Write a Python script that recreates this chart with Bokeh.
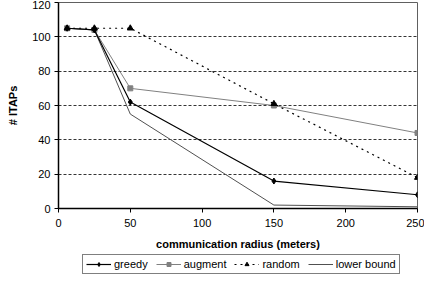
from bokeh.plotting import figure
from bokeh.models import Legend, LegendItem, FixedTicker, Range1d
from bokeh.layouts import column
from bokeh.embed import file_html
from bokeh.resources import INLINE

radius = [6, 25, 50, 150, 250]
greedy = [105, 104, 62, 16, 8]
augment = [105, 104, 70, 60, 44]
random_ = [105, 105, 105, 61, 18]
lower_bound = [105, 104, 55, 2, 1]
x_ticks = [0, 50, 100, 150, 200, 250]
y_ticks = [0, 20, 40, 60, 80, 100, 120]
series_names = ["greedy", "augment", "random", "lower bound"]

FONT = "Liberation Sans"

p = figure(width=424, height=252, output_backend="svg", toolbar_location=None,
           x_range=Range1d(0, 250), y_range=Range1d(0, 120),
           min_border_left=58, min_border_right=7, min_border_top=2, min_border_bottom=0)
p.background_fill_color = "white"
p.border_fill_color = "white"
p.outline_line_color = "#606060"
p.outline_line_width = 1

p.xgrid.grid_line_color = None
p.ygrid.grid_line_color = "black"
p.ygrid.grid_line_dash = "3 2"
p.ygrid.grid_line_width = 0.8
p.ygrid.ticker = FixedTicker(ticks=y_ticks)

p.xaxis.ticker = FixedTicker(ticks=x_ticks)
p.yaxis.ticker = FixedTicker(ticks=y_ticks)
for ax in (p.xaxis[0], p.yaxis[0]):
    ax.axis_line_color = "black"
    ax.axis_line_width = 1.5
    ax.major_tick_line_color = "black"
    ax.major_tick_in = 0
    ax.major_tick_out = 4
    ax.minor_tick_line_color = None
    ax.major_label_text_font = FONT
    ax.major_label_text_font_size = "11px"
    ax.major_label_text_color = "black"
    ax.axis_label_text_font = FONT
    ax.axis_label_text_font_size = "11px"
    ax.axis_label_text_font_style = "bold"
    ax.axis_label_text_color = "black"
p.xaxis.axis_label = "communication radius (meters)"
p.yaxis.axis_label = "# ITAPs"
p.xaxis.major_label_standoff = 6
p.xaxis.axis_label_standoff = 8
p.yaxis.major_label_standoff = 4
p.yaxis.axis_label_standoff = 10

styles = {
    "greedy": dict(color="black", width=1.2, dash="solid", marker="diamond", size=6),
    "augment": dict(color="#808080", width=1, dash="solid", marker="square", size=5),
    "random": dict(color="black", width=1.2, dash="2 4", marker="triangle", size=6),
    "lower bound": dict(color="#505050", width=1, dash="solid", marker=None, size=0),
}
data = {"greedy": greedy, "augment": augment, "random": random_, "lower bound": lower_bound}

for name in ["lower bound", "augment", "random", "greedy"]:
    s = styles[name]
    p.line(radius, data[name], line_color=s["color"], line_width=s["width"], line_dash=s["dash"])
    if s["marker"]:
        p.scatter(radius, data[name], marker=s["marker"], size=s["size"],
                  fill_color=s["color"], line_color=s["color"])

# legend strip (its glyph renderers sit outside the visible range; only the legend shows)
lg = figure(width=424, height=24, output_backend="svg", toolbar_location=None,
            x_range=Range1d(0, 1), y_range=Range1d(0, 1),
            min_border_left=0, min_border_right=0, min_border_top=0, min_border_bottom=0)
lg.axis.visible = False
lg.grid.visible = False
lg.outline_line_color = None
lg.background_fill_color = "white"
lg.border_fill_color = "white"
hidden_x = [5, 6]
hidden_y = [5, 6]
items = []
for name in series_names:
    s = styles[name]
    rs = [lg.line(hidden_x, hidden_y, line_color=s["color"], line_width=s["width"], line_dash=s["dash"])]
    if s["marker"]:
        rs.append(lg.scatter(hidden_x, hidden_y, marker=s["marker"], size=s["size"] - 1,
                             fill_color=s["color"], line_color=s["color"]))
    items.append(LegendItem(label=name, renderers=rs))
legend = Legend(items=items, orientation="horizontal", location=(24, 2))
legend.label_text_font = FONT
legend.label_text_font_size = "11px"
legend.label_text_color = "black"
legend.border_line_color = "black"
legend.border_line_width = 1
legend.background_fill_color = "white"
legend.glyph_width = 25
legend.glyph_height = 10
legend.label_standoff = 3
legend.spacing = 8
legend.padding = 3
legend.margin = 0
legend.label_height = 12
lg.add_layout(legend, "center")

layout = column(p, lg, spacing=0)
open("out.html", "w").write(file_html(layout, INLINE))
